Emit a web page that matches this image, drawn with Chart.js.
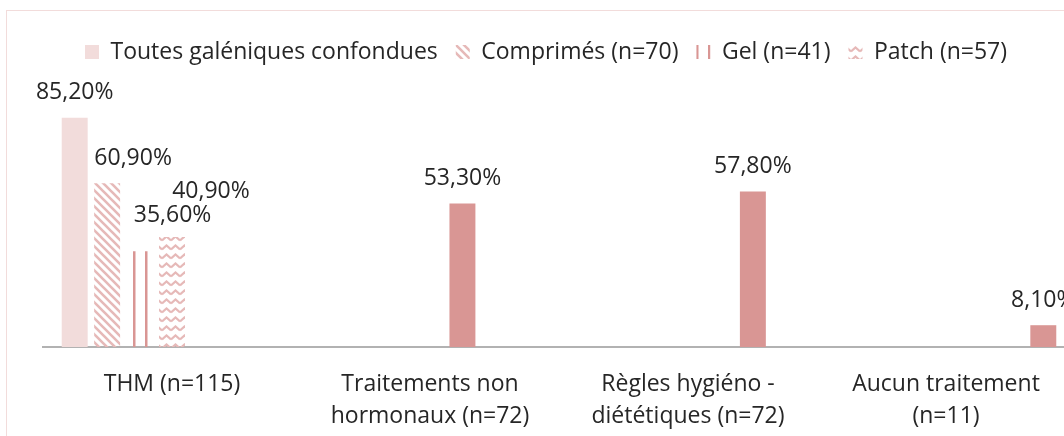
<!DOCTYPE html>
<html lang="fr">
<head>
    <meta charset="utf-8">
    <title>Traitements</title>
    <script src="https://cdn.jsdelivr.net/npm/chart.js"></script>
    <style>
        body { margin: 0; background: #fff; overflow: hidden; }
        .frame {
            position: absolute; left: 6px; top: 10px;
            width: 1200px; height: 600px;
            border: 1.5px solid #f2dcdb;
        }
        .wrap { position: absolute; left: 0; top: 0; width: 1090px; height: 436px; }
    </style>
</head>
<body>
<div class="frame"></div>
<div class="wrap"><canvas id="chart"></canvas></div>
<script>
    // categories (x axis)
    const categories = [
        ['THM (n=115)'],
        ['Traitements non', 'hormonaux (n=72)'],
        ['Règles hygiéno -', 'diététiques (n=72)'],
        ['Aucun traitement', '(n=11)']
    ];
    // one series per bar, values in %
    const toutes = [85.2, null, null, null];
    const comprimes = [60.9, null, null, null];
    const gel = [35.6, null, null, null];
    const patch = [40.9, null, null, null];
    const nonHormonaux = [null, 53.3, null, null];
    const regles = [null, null, 57.8, null];
    const aucun = [null, null, null, 8.1];

    const PINK_LIGHT = '#f2dcdb';
    const PINK_MID = '#e6b9b8';
    const PINK = '#d99694';

    function makePattern(kind) {
        const c = document.createElement('canvas');
        const g = c.getContext('2d');
        if (kind === 'diag') {
            c.width = 8; c.height = 8;
            g.strokeStyle = PINK_MID; g.lineWidth = 2.6;
            g.beginPath();
            g.moveTo(-2, -2); g.lineTo(10, 10);
            g.moveTo(-2, 6); g.lineTo(2, 10);
            g.moveTo(6, -2); g.lineTo(10, 2);
            g.stroke();
        } else if (kind === 'vert') {
            c.width = 12; c.height = 4;
            g.fillStyle = PINK;
            g.fillRect(1, 0, 2.5, 4);
        } else if (kind === 'zigzag') {
            c.width = 9; c.height = 9;
            g.strokeStyle = PINK_MID; g.lineWidth = 2.2;
            g.beginPath();
            g.moveTo(0, 6.5); g.lineTo(4.5, 2.5); g.lineTo(9, 6.5);
            g.stroke();
        }
        return g.createPattern(c, 'repeat');
    }

    function fmt(v) {
        return v.toFixed(2).replace('.', ',') + '%';
    }

    // value labels above bars; labelShift moves the hand-placed ones
    const barLabels = {
        id: 'barLabels',
        afterDatasetsDraw(chart) {
            const ctx = chart.ctx;
            ctx.save();
            ctx.font = '23px "Open Sans"';
            ctx.fillStyle = '#262626';
            ctx.textAlign = 'center';
            ctx.textBaseline = 'middle';
            chart.data.datasets.forEach((ds, i) => {
                const meta = chart.getDatasetMeta(i);
                const shift = ds.labelShift || [0, 0];
                meta.data.forEach((bar, j) => {
                    const v = ds.data[j];
                    if (v == null) return;
                    ctx.fillText(fmt(v), bar.x + shift[0], bar.y - 25 + shift[1]);
                });
            });
            ctx.restore();
        }
    };

    // room between legend and plot, and legend nudged left like the original
    const legendTweak = {
        id: 'legendTweak',
        beforeInit(chart) {
            const legend = chart.legend;
            const fit = legend.fit;
            legend.fit = function () {
                fit.call(this);
                this.height += 4.5;
            };
            const draw = legend.draw;
            legend.draw = function () {
                this.ctx.save();
                this.ctx.translate(-13, 0);
                draw.call(this);
                this.ctx.restore();
            };
        }
    };

    const ctx = document.getElementById('chart').getContext('2d');
    const chart = new Chart(ctx, {
        type: 'bar',
        data: {
            labels: categories,
            datasets: [
                { label: 'Toutes galéniques confondues', data: toutes, backgroundColor: PINK_LIGHT, labelShift: [0, 0] },
                { label: 'Comprimés (n=70)', data: comprimes, backgroundColor: makePattern('diag'), labelShift: [26, 0] },
                { label: 'Gel (n=41)', data: gel, backgroundColor: makePattern('vert'), labelShift: [33, -11] },
                { label: 'Patch (n=57)', data: patch, backgroundColor: makePattern('zigzag'), labelShift: [39, -21] },
                { label: 'Traitements non hormonaux', data: nonHormonaux, backgroundColor: PINK },
                { label: 'Règles hygiéno-diététiques', data: regles, backgroundColor: PINK },
                { label: 'Aucun traitement', data: aucun, backgroundColor: PINK }
            ]
        },
        options: {
            responsive: true,
            maintainAspectRatio: false,
            animation: false,
            datasets: {
                bar: { categoryPercentage: 0.88, barPercentage: 0.8, borderWidth: 0 }
            },
            layout: { padding: { top: 22.5, left: 43, right: 15, bottom: 0 } },
            scales: {
                x: {
                    grid: { display: false, drawTicks: false },
                    border: { display: true, color: '#b2b2b2', width: 2 },
                    afterFit: (scale) => { scale.height = 89; },
                    ticks: {
                        padding: 21,
                        color: '#262626',
                        font: { family: 'Open Sans', size: 23, lineHeight: 1.4 }
                    }
                },
                y: { display: false, min: 0, max: 100 }
            },
            plugins: {
                legend: {
                    labels: {
                        filter: (item) => item.datasetIndex < 4,
                        boxWidth: 14,
                        boxHeight: 14,
                        padding: 18,
                        color: '#262626',
                        font: { family: 'Open Sans', size: 23 }
                    }
                },
                tooltip: { enabled: false }
            }
        },
        plugins: [barLabels, legendTweak]
    });
</script>
</body>
</html>
